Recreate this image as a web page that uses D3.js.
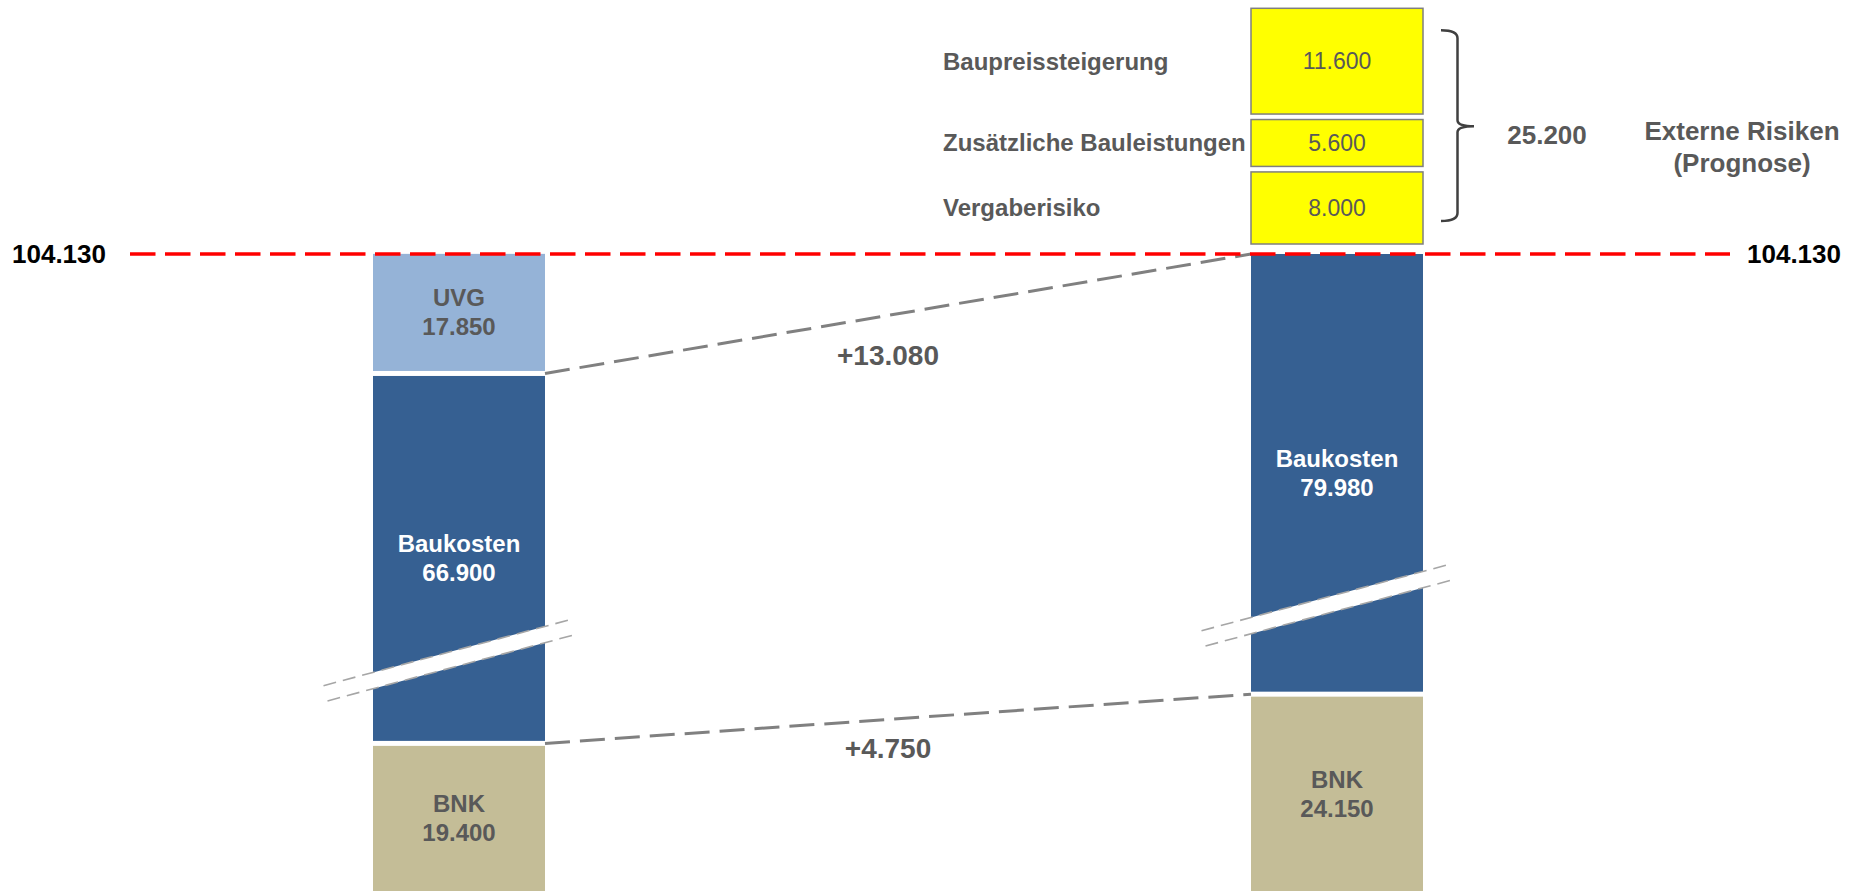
<!DOCTYPE html>
<html>
<head>
<meta charset="utf-8">
<script src="https://cdn.jsdelivr.net/npm/d3@7"></script>
<style>
  body { margin: 0; background: #fff; }
  svg { display: block; font-family: "Liberation Sans", Arial, sans-serif; font-weight: bold; }
</style>
</head>
<body>
<div id="chart"></div>
<script>
// Werte in Tsd. EUR
var categories = ['Budget', 'Prognose'];
var keys = ['BNK', 'Baukosten', 'UVG'];
var bnk = [19400, 24150];
var baukosten = [66900, 79980];
var uvg = [17850, 0];
var gesamt = 104130;

var risikoLabels = ['Vergaberisiko', 'Zusätzliche Bauleistungen', 'Baupreissteigerung'];
var risikoWerte = [8000, 5600, 11600];
var risikoTitel = ['Externe Risiken', '(Prognose)'];

// hidden value range of the axis break inside Baukosten, one per bar
var breaks = [[27700, 43900], [33000, 52100]];

var width = 1860, height = 891;
var barWidth = 172, gap = 5;
var colors = {BNK: '#c4bd97', Baukosten: '#366092', UVG: '#95b3d7'};
var textColors = {BNK: '#595959', Baukosten: '#ffffff', UVG: '#595959'};
var grey = '#595959';
var deltaDy = {BNK: 30, Baukosten: 42};

var de = d3.formatLocale({decimal: ',', thousands: '.', grouping: [3], currency: ['', '']});
var fmt = de.format(',.0f'), fmtDelta = de.format('+,.0f');

var svg = d3.select('#chart').append('svg')
    .attr('width', width)
    .attr('height', height);

var x = d3.scalePoint().domain(categories).range([459, 1337]);
// upper part of both bars on one scale
var yTop = d3.scaleLinear().domain([0, gesamt]).range([951.7, 254]);
// each bar gets a broken scale, the bottom runs out of the frame
var yBar = breaks.map(function(b) {
  return d3.scaleLinear()
      .domain([0, b[0], b[1], gesamt])
      .range([944, yTop(b[1]), yTop(b[1]), yTop(gesamt)]);
});

var rows = categories.map(function(c, i) {
  return {cat: c, BNK: bnk[i], Baukosten: baukosten[i], UVG: uvg[i]};
});
var stacked = d3.stack().keys(keys)(rows);
var tops = rows.map(function(r) { return r.BNK + r.Baukosten + r.UVG; });

var segs = [];
stacked.forEach(function(s) {
  s.forEach(function(d, i) {
    if (d[1] > d[0]) segs.push({key: s.key, i: i, y0: d[0], y1: d[1]});
  });
});
segs.forEach(function(d) {
  var yb = yBar[d.i];
  d.top = yb(d.y1) + (d.y1 < tops[d.i] ? gap / 2 : 0);
  d.bottom = yb(d.y0) - (d.y0 > 0 ? gap / 2 : 0);
  d.x = x(categories[d.i]) - barWidth / 2;
});

svg.append('g').selectAll('rect')
    .data(segs)
    .join('rect')
    .attr('x', function(d) { return d.x; })
    .attr('y', function(d) { return d.top; })
    .attr('width', barWidth)
    .attr('height', function(d) { return d.bottom - d.top; })
    .attr('fill', function(d) { return colors[d.key]; });

// axis breaks
var slope = 0.2677, half = 8.15;
breaks.forEach(function(b, i) {
  var cx = x(categories[i]), cy = yTop(b[1]);
  var x0 = cx - barWidth / 2, x1 = cx + barWidth / 2;
  var ly = function(xx, off) { return cy - slope * (xx - cx) + off; };
  var g = svg.append('g');
  g.append('polygon')
      .attr('points', [[x0, ly(x0, -half)], [x1, ly(x1, -half)], [x1, ly(x1, half)], [x0, ly(x0, half)]].join(' '))
      .attr('fill', '#fff');
  [[-half, x0 - 49.5, x1 + 26.5], [half, x0 - 45.5, x1 + 31]].forEach(function(l) {
    g.append('line')
        .attr('x1', l[1]).attr('y1', ly(l[1], l[0]))
        .attr('x2', l[2]).attr('y2', ly(l[2], l[0]))
        .attr('stroke', '#a6a6a6')
        .attr('stroke-width', 1.6)
        .attr('stroke-dasharray', '13 7');
  });
});

// segment labels
svg.append('g').selectAll('g')
    .data(segs)
    .join('g')
    .each(function(d) {
      var cy = (d.top + Math.min(d.bottom, height)) / 2;
      var t = d3.select(this).append('text')
          .attr('text-anchor', 'middle')
          .attr('font-size', 24)
          .attr('fill', textColors[d.key]);
      t.append('tspan').attr('x', d.x + barWidth / 2).attr('y', cy - 14.5)
          .attr('dominant-baseline', 'central').text(d.key);
      t.append('tspan').attr('x', d.x + barWidth / 2).attr('y', cy + 14.5)
          .attr('dominant-baseline', 'central').text(fmt(d.y1 - d.y0));
    });

// connectors with differences
['BNK', 'Baukosten'].forEach(function(k) {
  var s = stacked[keys.indexOf(k)];
  var x1 = x(categories[0]) + barWidth / 2, y1 = yBar[0](s[0][1]);
  var x2 = x(categories[1]) - barWidth / 2, y2 = yBar[1](s[1][1]);
  svg.append('line')
      .attr('x1', x1).attr('y1', y1)
      .attr('x2', x2).attr('y2', y2)
      .attr('stroke', '#808080')
      .attr('stroke-width', 3)
      .attr('stroke-dasharray', '25 10');
  svg.append('text')
      .attr('x', (x1 + x2) / 2 - 10)
      .attr('y', (y1 + y2) / 2 + deltaDy[k])
      .attr('text-anchor', 'middle')
      .attr('dominant-baseline', 'central')
      .attr('font-size', 28)
      .attr('fill', grey)
      .text(fmtDelta(rows[1][k] - rows[0][k]));
});

// total line
var yG = yTop(gesamt);
svg.append('line')
    .attr('x1', 130).attr('x2', 1730)
    .attr('y1', yG).attr('y2', yG)
    .attr('stroke', '#ff0000')
    .attr('stroke-width', 3.3)
    .attr('stroke-dasharray', '25.5 9.5');
[[12, 'start'], [1841, 'end']].forEach(function(p) {
  svg.append('text')
      .attr('x', p[0]).attr('y', yG)
      .attr('text-anchor', p[1])
      .attr('dominant-baseline', 'central')
      .attr('font-size', 26)
      .attr('fill', '#000')
      .text(fmt(gesamt));
});

// external risks
var risikoSumme = d3.sum(risikoWerte);
var yR = d3.scaleLinear().domain([0, risikoSumme]).range([244, 8.3]);
var acc = 0;
var risiken = risikoWerte.map(function(v, i) {
  var r = {label: risikoLabels[i], value: v, y0: acc, y1: acc + v};
  acc += v;
  return r;
});
var rx = x(categories[1]) - barWidth / 2;
risiken.forEach(function(r) {
  r.top = yR(r.y1) + (r.y1 < risikoSumme ? 2.75 : 0);
  r.bottom = yR(r.y0) - (r.y0 > 0 ? 2.75 : 0);
});

var rg = svg.append('g');
rg.selectAll('rect')
    .data(risiken)
    .join('rect')
    .attr('x', rx)
    .attr('y', function(d) { return d.top; })
    .attr('width', barWidth)
    .attr('height', function(d) { return d.bottom - d.top; })
    .attr('fill', '#ffff00')
    .attr('stroke', '#7f7f7f')
    .attr('stroke-width', 1.5);
rg.selectAll('text.val')
    .data(risiken)
    .join('text')
    .attr('class', 'val')
    .attr('x', rx + barWidth / 2)
    .attr('y', function(d) { return (d.top + d.bottom) / 2; })
    .attr('text-anchor', 'middle')
    .attr('dominant-baseline', 'central')
    .attr('font-size', 23)
    .attr('font-weight', 'normal')
    .attr('fill', grey)
    .text(function(d) { return fmt(d.value); });
rg.selectAll('text.lab')
    .data(risiken)
    .join('text')
    .attr('class', 'lab')
    .attr('x', 943)
    .attr('y', function(d) { return (d.top + d.bottom) / 2; })
    .attr('dominant-baseline', 'central')
    .attr('font-size', 24)
    .attr('fill', grey)
    .text(function(d) { return d.label; });

// brace
var bT = yR(risikoSumme) + 22, bB = yR(0) - 23, bM = yR(risikoSumme / 2);
var bx = 1441, vx = 1457.5, tx = 1474;
svg.append('path')
    .attr('d', 'M' + bx + ',' + bT + ' Q' + vx + ',' + bT + ' ' + vx + ',' + (bT + 8) +
        ' V' + (bM - 6) + ' Q' + vx + ',' + bM + ' ' + tx + ',' + bM +
        ' Q' + vx + ',' + bM + ' ' + vx + ',' + (bM + 6) +
        ' V' + (bB - 8) + ' Q' + vx + ',' + bB + ' ' + bx + ',' + bB)
    .attr('fill', 'none')
    .attr('stroke', '#404040')
    .attr('stroke-width', 2.5);

svg.append('text')
    .attr('x', 1547).attr('y', bM + 9)
    .attr('text-anchor', 'middle')
    .attr('dominant-baseline', 'central')
    .attr('font-size', 26)
    .attr('fill', grey)
    .text(fmt(risikoSumme));

svg.append('g').selectAll('text')
    .data(risikoTitel)
    .join('text')
    .attr('x', 1742)
    .attr('y', function(d, i) { return 131 + i * 32; })
    .attr('text-anchor', 'middle')
    .attr('dominant-baseline', 'central')
    .attr('font-size', 26)
    .attr('fill', grey)
    .text(function(d) { return d; });
</script>
</body>
</html>
